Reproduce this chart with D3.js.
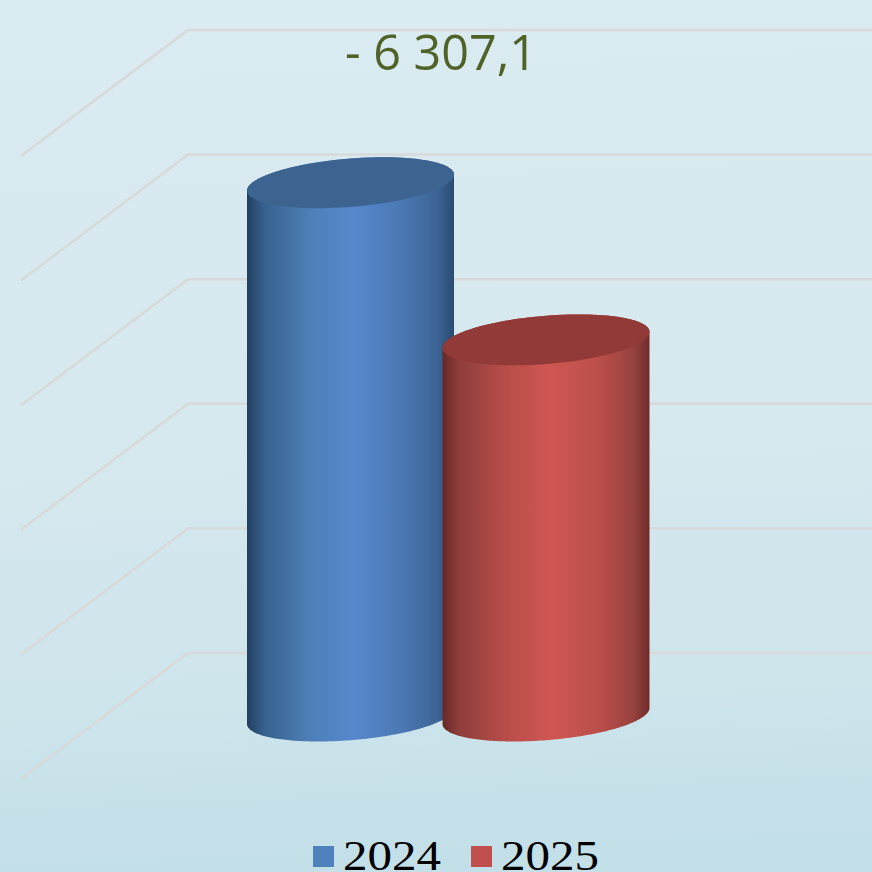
<!DOCTYPE html>
<html>
<head>
<meta charset="utf-8">
<script src="https://cdn.jsdelivr.net/npm/d3@7"></script>
<style>
  html, body { margin: 0; padding: 0; background: #d8eaf0; overflow: hidden; }
  svg { display: block; }
</style>
</head>
<body>
<div id="chart"></div>
<script>
// ---------- Data ----------
const categories = ['2024', '2025'];
const values = [21400, 15093];
const gridTicks = [0, 5000, 10000, 15000, 20000, 25000];
const title = '- 6 307,1';

// ---------- Colours ----------
const bgStops = [[0, '#daebf1'], [0.5, '#d6e9ef'], [0.8, '#cee5eb'], [1, '#c3dfe8']];
const legendColors = ['#4f81bd', '#c0504d'];
const capColors = ['#3d6491', '#913a38'];
const sideStops = [
  [[0, '#233f60'], [0.08, '#36608c'], [0.3, '#4d7fb8'], [0.52, '#5788cd'], [0.75, '#4a78b2'], [0.92, '#3c6494'], [1, '#2a4a70']],
  [[0, '#662826'], [0.08, '#8f3e3b'], [0.3, '#b64d49'], [0.52, '#cf5653'], [0.75, '#bc4f4b'], [0.92, '#97423f'], [1, '#6f2c2a']]
];

const width = 872, height = 872;
const depthX = 167, depthY = 63;   // half of the wall depth is depthY
const wallX = 188;
const radiusX = 103.5, radiusY = 24.2, tilt = 8;

const svg = d3.select('#chart').append('svg')
  .attr('width', width)
  .attr('height', height);
const defs = svg.append('defs');

// Background
const bg = defs.append('linearGradient').attr('id', 'bg')
  .attr('x1', 0).attr('y1', 0).attr('x2', 0.04).attr('y2', 1);
bg.selectAll('stop').data(bgStops).join('stop')
  .attr('offset', d => d[0]).attr('stop-color', d => d[1]);
svg.append('rect').attr('width', width).attr('height', height).attr('fill', 'url(#bg)');

// Scales
const y = d3.scaleLinear().domain([0, 25000]).range([716, 93]);
const x = d3.scalePoint().domain(categories).range([350.5, 546]);

// Gridlines: side wall and back wall
const gridLine = d3.line();
svg.append('g').selectAll('path').data(gridTicks).join('path')
  .attr('d', d => gridLine([
    [wallX - depthX, y(d) + depthY],
    [wallX, y(d) - depthY],
    [width, y(d) - depthY]
  ]))
  .attr('fill', 'none')
  .attr('stroke', '#d7d9da')
  .attr('stroke-width', 2.5);

// Sheared ellipse point for the cylinder ends
const ellipsePoint = (cx, cy, t) => [
  cx + radiusX * Math.cos(t),
  cy + radiusY * Math.sin(t) - tilt * Math.cos(t)
];
const steps = d3.range(0, 121).map(i => i / 120 * Math.PI);
const outline = d3.line();

// Cylinders
categories.forEach((cat, i) => {
  const cx = x(cat);
  const base = y(0);
  const top = y(values[i]);

  const grad = defs.append('linearGradient').attr('id', 'side' + i);
  grad.selectAll('stop').data(sideStops[i]).join('stop')
    .attr('offset', d => d[0]).attr('stop-color', d => d[1]);

  const lowerFront = steps.map(t => ellipsePoint(cx, base, Math.PI - t));
  const upperBack = steps.map(t => ellipsePoint(cx, top, -t));

  svg.append('path')
    .attr('d', outline(lowerFront.concat(upperBack)) + 'Z')
    .attr('fill', `url(#side${i})`);

  const cap = steps.map(t => ellipsePoint(cx, top, t * 2));
  svg.append('path')
    .attr('d', outline(cap) + 'Z')
    .attr('fill', capColors[i]);
});

// Title
svg.append('text')
  .attr('x', 441)
  .attr('y', 70)
  .attr('text-anchor', 'middle')
  .attr('font-family', '"Open Sans", "Noto Sans", sans-serif')
  .attr('font-size', 48.5)
  .attr('fill', '#4f6228')
  .text(title);

// Legend
const legendX = d3.scalePoint().domain(categories).range([313, 471]);
const legend = svg.append('g').selectAll('g').data(categories).join('g')
  .attr('transform', d => `translate(${legendX(d)},846)`);
legend.append('rect')
  .attr('width', 21)
  .attr('height', 21)
  .attr('fill', (d, i) => legendColors[i]);
legend.append('text')
  .attr('x', 30)
  .attr('y', 23.5)
  .attr('font-family', '"Liberation Serif", serif')
  .attr('font-size', 43)
  .attr('textLength', 98)
  .attr('lengthAdjust', 'spacingAndGlyphs')
  .attr('fill', '#000')
  .text(d => d);
</script>
</body>
</html>
